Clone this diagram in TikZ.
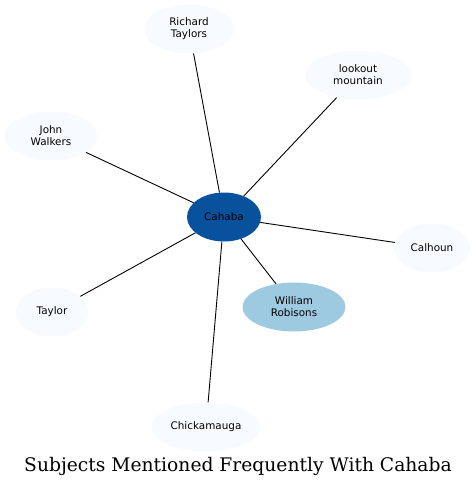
\documentclass[tikz,border=0pt]{standalone}
\usepackage{fontspec}
\setmainfont{DejaVu Serif}
\setsansfont{DejaVu Sans}
\usetikzlibrary{shapes.geometric}

\definecolor{blueA}{HTML}{F7FBFF}
\definecolor{blueB}{HTML}{9ECAE1}
\definecolor{blueC}{HTML}{08519C}

\begin{document}
\begin{tikzpicture}[x=1pt,y=-1pt,
    subj/.style={ellipse, fill=blueA, inner sep=0pt, minimum height=49pt,
                 align=center, font=\sffamily\fontsize{10.4}{12}\selectfont},
    link/.style={black, line width=0.9pt}]
  \useasboundingbox (0,0) rectangle (476,488);

  \node[subj, fill=blueC, minimum width=74pt]  (cahaba)   at (224,217) {Cahaba};
  \node[subj, minimum width=90pt]              (richard)  at (189,29)  {Richard\\Taylors};
  \node[subj, minimum width=106pt]             (lookout)  at (358,75)  {lookout\\mountain};
  \node[subj, minimum width=93pt]              (john)     at (51,136)  {John\\Walkers};
  \node[subj, minimum width=76pt]              (calhoun)  at (432,248) {Calhoun};
  \node[subj, minimum width=73pt]              (taylor)   at (52,312)  {Taylor};
  \node[subj, fill=blueB, minimum width=103pt] (william)  at (294,307) {William\\Robisons};
  \node[subj, minimum width=109pt]             (chick)    at (206,427) {Chickamauga};

  \node[font=\fontsize{18.7}{22}\selectfont] (title) at (238,466) {Subjects Mentioned Frequently With Cahaba};

  \path[link]
        (cahaba) edge (richard)
                 edge (lookout)
                 edge (john)
                 edge (calhoun)
                 edge (taylor)
                 edge (william)
                 edge (chick);
\end{tikzpicture}
\end{document}
